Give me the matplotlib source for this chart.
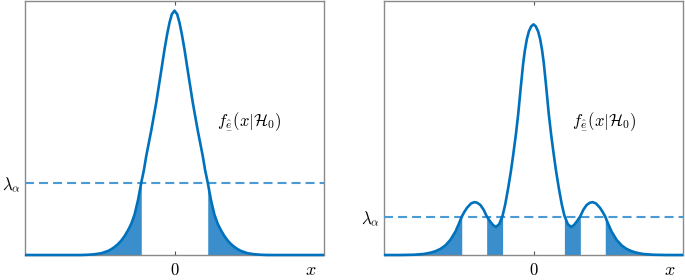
import numpy as np
import matplotlib; matplotlib.use("Agg")
import matplotlib.pyplot as plt

plt.rcParams["mathtext.fontset"] = "cm"
plt.rcParams["lines.scale_dashes"] = False

# left panel: unimodal density under H0 (x in arbitrary units, y normalised)
x_left = [-4.5, -2.8, -2.6, -2.4, -2.2, -2.0, -1.9, -1.8, -1.7, -1.6, -1.5, -1.4, -1.3,
          -1.2, -1.1, -1.0, -0.92, -0.85, -0.7, -0.55, -0.4, -0.3, -0.22, -0.15, -0.08, 0.0,
          0.08, 0.15, 0.22, 0.3, 0.4, 0.55, 0.7, 0.85, 0.92, 1.0, 1.1, 1.2, 1.3, 1.4,
          1.5, 1.6, 1.7, 1.8, 1.9, 2.0, 2.2, 2.4, 2.6, 2.8, 4.5]
y_left = [0.0, 0.0, 0.001, 0.003, 0.007, 0.016, 0.023, 0.032, 0.043, 0.057, 0.075, 0.097, 0.123,
          0.16, 0.215, 0.285, 0.335, 0.39, 0.49, 0.60, 0.725, 0.81, 0.87, 0.915, 0.948, 0.962,
          0.948, 0.915, 0.87, 0.81, 0.725, 0.60, 0.49, 0.39, 0.335, 0.285, 0.215, 0.16, 0.123, 0.097,
          0.075, 0.057, 0.043, 0.032, 0.023, 0.016, 0.007, 0.003, 0.001, 0.0, 0.0]
lam_left = 0.283
crit_left = [(-4.5, -1.0), (1.0, 4.5)]

# right panel: multimodal density under H0
x_right = [-4.5, -4.0, -3.6, -3.3, -3.1, -2.95, -2.8, -2.65, -2.5, -2.35, -2.25, -2.16,
           -2.08, -2.0, -1.88, -1.78, -1.7, -1.6, -1.5, -1.41, -1.32, -1.22, -1.13, -1.03,
           -0.93, -0.85, -0.76, -0.68, -0.61, -0.53, -0.46, -0.38, -0.31, -0.26, -0.2,
           -0.14, -0.07, 0.0,
           0.07, 0.14, 0.2, 0.26, 0.31, 0.38, 0.46, 0.53, 0.61, 0.68, 0.76, 0.85, 0.93,
           1.03, 1.13, 1.22, 1.32, 1.41, 1.5, 1.6, 1.7, 1.78, 1.88, 2.0, 2.08, 2.16,
           2.25, 2.35, 2.5, 2.65, 2.8, 2.95, 3.1, 3.3, 3.6, 4.0, 4.5]
y_right = [0.0, 0.0, 0.001, 0.004, 0.009, 0.015, 0.024, 0.038, 0.06, 0.092, 0.122, 0.151,
           0.17, 0.186, 0.203, 0.208, 0.206, 0.197, 0.178, 0.153, 0.135, 0.118, 0.11, 0.122,
           0.155, 0.2, 0.265, 0.33, 0.395, 0.475, 0.555, 0.665, 0.755, 0.805, 0.85,
           0.88, 0.9, 0.908,
           0.9, 0.88, 0.85, 0.805, 0.755, 0.665, 0.555, 0.475, 0.395, 0.33, 0.265, 0.2, 0.155,
           0.122, 0.11, 0.118, 0.135, 0.153, 0.178, 0.197, 0.206, 0.208, 0.203, 0.186, 0.17, 0.151,
           0.122, 0.092, 0.06, 0.038, 0.024, 0.015, 0.009, 0.004, 0.001, 0.0, 0.0]
lam_right = 0.15
crit_right = [(-4.5, -2.16), (-1.41, -0.93), (0.93, 1.41), (2.16, 4.5)]

pdf_label = r"$f_{\underset{-}{\hat{e}}}(x|\mathcal{H}_0)$"

LINE = "#0072BD"
FILL = "#3a8ecb"
DASH = "#4a9ad6"
SPINE = "#8a8a8a"

fig = plt.figure(figsize=(6.85, 2.8), dpi=100)
ax_l = fig.add_axes([25 / 685, 25 / 280, 299 / 685, 254 / 280])
ax_r = fig.add_axes([384 / 685, 25 / 280, 299 / 685, 254 / 280])

for ax, xs, ys, lam, crit, lx in [(ax_l, x_left, y_left, lam_left, crit_left, 0.642),
                                  (ax_r, x_right, y_right, lam_right, crit_right, 0.63)]:
    xs = np.array(xs); ys = np.array(ys)
    for a, b in crit:
        m = (xs >= a) & (xs <= b)
        ax.fill_between(xs[m], ys[m], 0, color=FILL, lw=0, zorder=2)
    ax.plot(xs, ys, color=LINE, lw=1.9, zorder=4, clip_on=False,
            solid_capstyle="butt", solid_joinstyle="round")
    ax.axhline(lam, color=DASH, lw=1.5, dashes=(6.5, 3.6), zorder=3)

    ax.set_xlim(-4.5, 4.5)
    ax.set_ylim(0, 1)
    ax.set_xticks([0]); ax.set_xticklabels(["$0$"], fontsize=12)
    ax.set_yticks([lam]); ax.set_yticklabels([r"$\lambda_\alpha$"], fontsize=12)
    ax.tick_params(direction="in", length=3, width=0.8, color="#555555",
                   top=True, right=False, pad=4)
    ax.tick_params(axis="y", length=0, pad=3)
    for s in ax.spines.values():
        s.set_color(SPINE); s.set_linewidth(1.0)
    ax.text(0.955, -0.058, "$x$", transform=ax.transAxes, fontsize=13,
            ha="center", va="center")
    ax.text(lx, 0.528, pdf_label, transform=ax.transAxes, fontsize=12,
            ha="left", va="center")

fig.savefig("out.png", dpi=100)
